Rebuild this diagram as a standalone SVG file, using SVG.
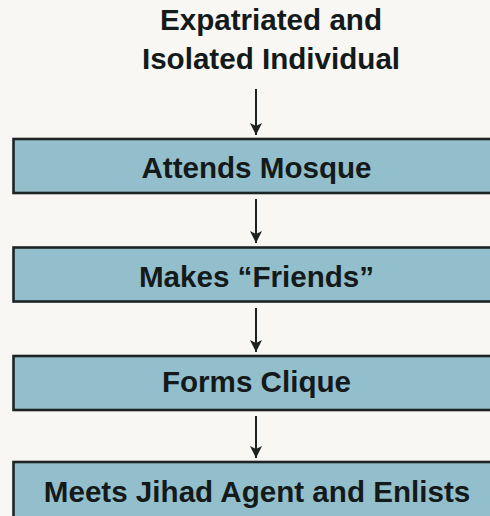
<svg xmlns="http://www.w3.org/2000/svg" width="490" height="516" viewBox="0 0 490 516">
  <style>
    .box { fill: #93bfcc; stroke: #1c2424; stroke-width: 2.6; }
    .lbl { font-family: "Liberation Sans", Arial, sans-serif; font-weight: bold; font-size: 29.6px; fill: #141a1a; text-anchor: middle; }
    .arrow { stroke: #1c2222; stroke-width: 2; fill: none; marker-end: url(#head); }
  </style>
  <defs>
    <!-- filled arrowhead pointing along the line, tip at the end point -->
    <marker id="head" viewBox="0 0 12 12" refX="12" refY="6" markerWidth="12" markerHeight="12" markerUnits="userSpaceOnUse" orient="auto">
      <path d="M0,0 L12,6 L0,12 L3,6 Z" fill="#1c2222"/>
    </marker>
  </defs>
  <rect width="490" height="516" fill="#f8f7f3"/>

  <g id="start">
    <text class="lbl" x="271" y="30">Expatriated and</text>
    <text class="lbl" x="271" y="69">Isolated Individual</text>
  </g>

  <g id="connectors">
    <line class="arrow" x1="256" y1="89" x2="256" y2="135"/>
    <line class="arrow" x1="256" y1="199" x2="256" y2="243"/>
    <line class="arrow" x1="256" y1="308" x2="256" y2="352"/>
    <line class="arrow" x1="256" y1="416" x2="256" y2="458"/>
  </g>

  <g id="mosque">
    <rect class="box" x="13.5" y="139" width="490" height="54"/>
    <text class="lbl" x="256.5" y="178">Attends Mosque</text>
  </g>
  <g id="friends">
    <rect class="box" x="13.5" y="247.5" width="490" height="54"/>
    <text class="lbl" x="256.5" y="287">Makes “Friends”</text>
  </g>
  <g id="clique">
    <rect class="box" x="13.5" y="356" width="490" height="54"/>
    <text class="lbl" x="256.5" y="392">Forms Clique</text>
  </g>
  <g id="enlists">
    <rect class="box" x="13.5" y="462" width="490" height="70"/>
    <text class="lbl" x="257" y="502">Meets Jihad Agent and Enlists</text>
  </g>
</svg>
